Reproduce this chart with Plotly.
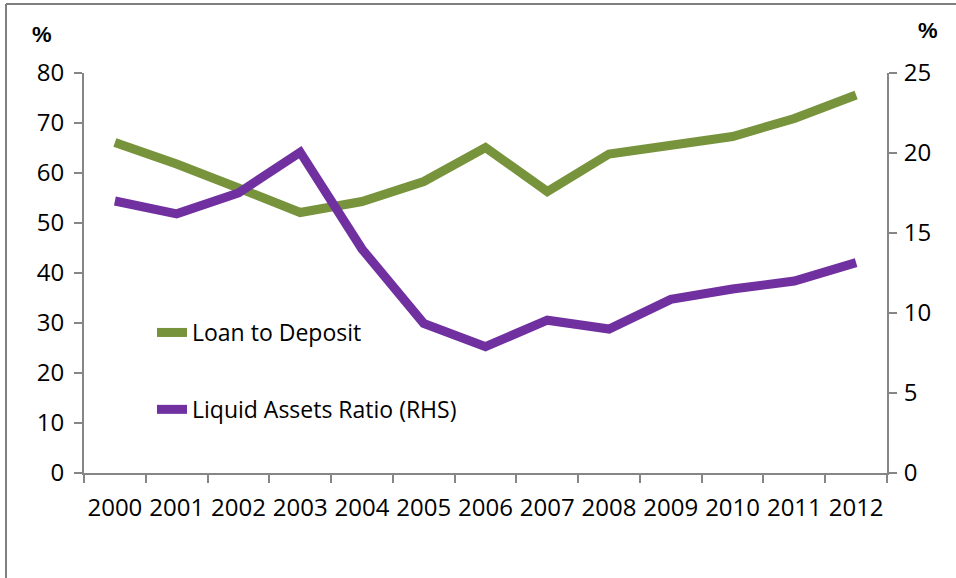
import plotly.graph_objects as go

years = ["2000", "2001", "2002", "2003", "2004", "2005", "2006",
         "2007", "2008", "2009", "2010", "2011", "2012"]
loan_to_deposit = [66.1, 61.8, 57.0, 52.1, 54.3, 58.3, 65.1, 56.3, 63.8, 65.6, 67.3, 70.9, 75.6]
liquid_assets_ratio = [17.0, 16.2, 17.5, 20.05, 14.0, 9.35, 7.9, 9.55, 9.0, 10.85, 11.5, 12.0, 13.15]

left_ticks = [0, 10, 20, 30, 40, 50, 60, 70, 80]
right_ticks = [0, 5, 10, 15, 20, 25]

GREEN = "#77933C"
PURPLE = "#7030A0"
AXIS = "#868686"
FONT = "Open Sans"

W, H = 956, 578
L, R, T, B = 84, 956 - 887, 73, 578 - 473
pw, ph = W - L - R, H - T - B


def px(x):
    return (x - L) / pw


def py(y):
    return (H - B - y) / ph


fig = go.Figure()
fig.add_trace(go.Scatter(
    x=years, y=loan_to_deposit, name="Loan to Deposit", mode="lines",
    line=dict(color=GREEN, width=9), legendgroup="a", yaxis="y"))
fig.add_trace(go.Scatter(
    x=years, y=liquid_assets_ratio, name="Liquid Assets Ratio (RHS)", mode="lines",
    line=dict(color=PURPLE, width=9), legendgroup="b", yaxis="y2"))

axis_common = dict(showgrid=False, zeroline=False, showline=True, linecolor=AXIS,
                   linewidth=2, ticks="outside", ticklen=8, tickwidth=2, tickcolor=AXIS,
                   automargin=False,
                   tickfont=dict(family=FONT, size=24, color="black"))

fig.update_layout(
    width=W, height=H,
    margin=dict(l=L, r=R, t=T, b=B),
    paper_bgcolor="white", plot_bgcolor="white",
    showlegend=True,
    legend=dict(x=px(152), y=py(311), xanchor="left", yanchor="top",
                font=dict(family=FONT, size=23, color="black"),
                tracegroupgap=44, bgcolor="rgba(0,0,0,0)", itemwidth=30),
    xaxis=dict(type="category", tickson="boundaries", ticklabelstandoff=12,
               tickangle=0, range=[-0.5, 12.5], **axis_common),
    yaxis=dict(range=[0, 80], tickvals=left_ticks, ticklabelstandoff=5, **axis_common),
    yaxis2=dict(range=[0, 25], tickvals=right_ticks, overlaying="y", side="right",
                ticklabelstandoff=2, **axis_common),
    shapes=[
        dict(type="line", xref="paper", yref="paper", x0=px(6), x1=px(6),
             y0=py(4), y1=py(580), line=dict(color="#7f7f7f", width=2)),
        dict(type="line", xref="paper", yref="paper", x0=px(6), x1=px(960),
             y0=py(4), y1=py(4), line=dict(color="#7f7f7f", width=2)),
    ],
    annotations=[
        dict(text="<b>%</b>", xref="paper", yref="paper", x=px(42), y=py(34),
             xanchor="center", yanchor="middle", showarrow=False,
             font=dict(family="Liberation Sans", size=22, color="black")),
        dict(text="<b>%</b>", xref="paper", yref="paper", x=px(928), y=py(30),
             xanchor="center", yanchor="middle", showarrow=False,
             font=dict(family="Liberation Sans", size=22, color="black")),
    ],
)

fig.write_html("out.html", config={"displayModeBar": False})

with open("out.html", "r", encoding="utf-8") as f:
    html = f.read()
html = html.replace("<head>", "<head><style>html,body{margin:0;padding:0;overflow:hidden;}</style>", 1)
with open("out.html", "w", encoding="utf-8") as f:
    f.write(html)
